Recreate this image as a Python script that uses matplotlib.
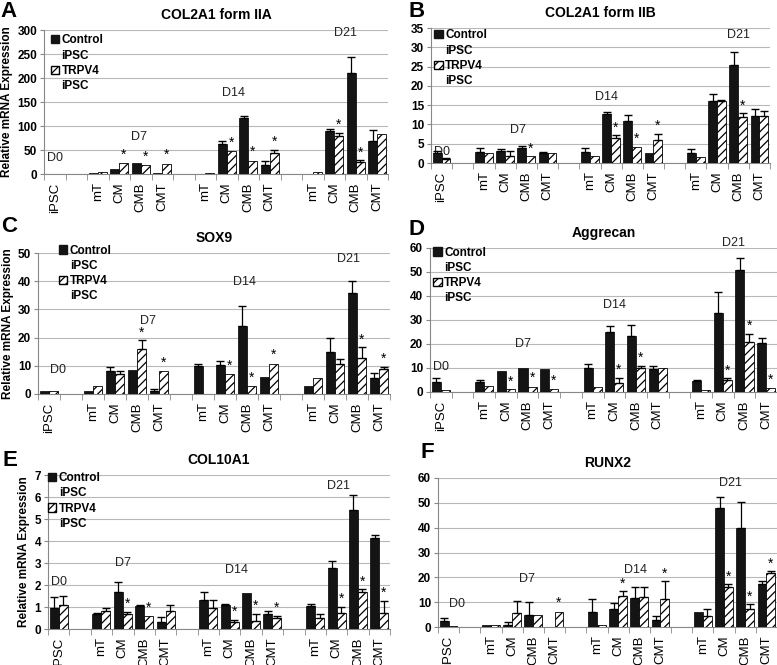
import numpy as np
import matplotlib
matplotlib.use('Agg')
import matplotlib.pyplot as plt
from matplotlib.patches import Patch

plt.rcParams['font.family'] = ['Liberation Sans', 'DejaVu Sans']
plt.rcParams['hatch.linewidth'] = 0.9

# category slots along x ('' = gap between days)
slots = ['iPSC', '', 'mT', 'CM', 'CMB', 'CMT', '', 'mT', 'CM', 'CMB', 'CMT',
         '', 'mT', 'CM', 'CMB', 'CMT']
days = ['D0', 'D7', 'D14', 'D21']

# A - COL2A1 form IIA
a_ctrl = [0.5, 3, 10, 22, 3, 1, 63, 116, 18, 1, 89, 210, 68]
a_ctrl_err = [0, 0, 0, 2, 0, 0, 5, 5, 9, 0, 5, 33, 24]
a_trpv = [1, 5, 23, 18, 21, 3, 47, 28, 43, 4, 80, 25, 83]
a_trpv_err = [0, 0, 1, 1, 2, 0, 1, 2, 7, 0, 6, 4, 2]
a_star = [0, 0, 1, 1, 1, 0, 1, 1, 1, 0, 1, 1, 0]

# B - COL2A1 form IIB
b_ctrl = [2.6, 2.8, 3.0, 3.8, 2.5, 2.8, 12.8, 10.8, 2.5, 2.5, 16.0, 25.3, 12.1]
b_ctrl_err = [0.6, 1.0, 0.7, 0.5, 0.4, 1.0, 0.5, 1.6, 0.2, 1.2, 1.8, 3.5, 2.0]
b_trpv = [1.0, 2.5, 1.8, 1.7, 2.6, 1.7, 6.6, 4.1, 6.0, 1.6, 16.1, 12.0, 12.3]
b_trpv_err = [0.3, 0.1, 1.2, 0.1, 0.2, 0.1, 0.6, 0.2, 1.6, 0.1, 0.3, 0.9, 1.1]
b_star = [0, 0, 0, 1, 0, 0, 1, 1, 1, 0, 0, 1, 0]

# C - SOX9
c_ctrl = [1.2, 1.0, 8.0, 8.6, 1.2, 9.8, 10.2, 24.2, 6.0, 2.8, 14.8, 35.8, 5.6]
c_ctrl_err = [0.3, 0.1, 1.4, 0.1, 0.7, 1.0, 1.6, 7.0, 0.1, 0.1, 5.0, 4.3, 1.8]
c_trpv = [0.9, 2.8, 7.0, 15.8, 8.2, 0.1, 7.0, 2.7, 10.8, 5.7, 10.6, 12.8, 9.0]
c_trpv_err = [0.2, 0.2, 1.2, 3.2, 0.3, 0, 0.4, 0.3, 0.2, 0.2, 1.8, 3.7, 0.6]
c_star = [0, 0, 0, 1, 1, 0, 1, 1, 1, 0, 0, 1, 1]

# D - Aggrecan
d_ctrl = [4.0, 4.0, 8.8, 10.2, 9.4, 10.0, 25.0, 23.2, 9.6, 4.5, 33.0, 51.0, 20.6]
d_ctrl_err = [2.0, 0.8, 0.1, 0.1, 0.1, 1.8, 2.6, 4.6, 1.2, 0.6, 8.5, 5.0, 1.8]
d_trpv = [1.0, 2.3, 1.1, 2.2, 1.3, 2.1, 3.6, 10.0, 10.0, 0.9, 5.0, 21.0, 1.5]
d_trpv_err = [0.1, 0.4, 0.1, 0.3, 0.1, 0.2, 2.3, 1.0, 0.3, 0.1, 0.8, 3.3, 0.2]
d_star = [0, 0, 1, 1, 1, 0, 1, 1, 0, 0, 1, 1, 1]

# E - COL10A1
e_ctrl = [0.97, 0.67, 1.67, 1.03, 0.32, 1.33, 1.07, 1.65, 0.70, 1.05, 2.78, 5.43, 4.13]
e_ctrl_err = [0.5, 0.08, 0.47, 0.08, 0.22, 0.35, 0.07, 0.03, 0.1, 0.1, 0.3, 0.65, 0.15]
e_trpv = [1.1, 0.82, 0.70, 0.60, 0.80, 0.97, 0.33, 0.35, 0.50, 0.48, 0.75, 1.70, 0.73]
e_trpv_err = [0.4, 0.15, 0.08, 0.02, 0.3, 0.35, 0.1, 0.35, 0.1, 0.2, 0.25, 0.1, 0.55]
e_star = [0, 0, 1, 1, 0, 0, 1, 1, 1, 0, 1, 1, 1]

# F - RUNX2
f_ctrl = [2.5, 0.7, 0.8, 5.0, 0.0, 6.1, 7.4, 11.5, 2.9, 6.1, 48.0, 39.7, 17.2]
f_ctrl_err = [1.2, 0.1, 1.2, 5.2, 0, 5.0, 2.2, 4.5, 1.5, 0.1, 4.2, 10.8, 1.3]
f_trpv = [0.6, 0.9, 5.5, 5.0, 6.0, 0.9, 12.6, 12.2, 11.2, 4.3, 16.0, 7.2, 21.7]
f_trpv_err = [0.1, 0.3, 5.0, 0.4, 0.5, 0.1, 1.7, 4.0, 7.3, 2.8, 1.2, 2.0, 0.7]
f_star = [0, 0, 0, 0, 1, 0, 1, 0, 1, 0, 1, 1, 1]

# layout per panel: letter, letter spot (px), title, axes rect (px), ymax, ystep,
# day label spots, legend anchor
W, H = 777, 665
panels = [
    ('A', (0, 1), 'COL2A1 form IIA', (44, 30, 388, 174), 300, 50,
     [(0, 33), (3.9, 78), (8.3, 168), (13.5, 293)], (0.02, 0.97),
     a_ctrl, a_ctrl_err, a_trpv, a_trpv_err, a_star),
    ('B', (409, 1), 'COL2A1 form IIB', (431, 28, 770, 163), 35, 5,
     [(0, 2.9), (3.6, 8.6), (7.8, 17.2), (14.0, 33.3)], (0.01, 0.99),
     b_ctrl, b_ctrl_err, b_trpv, b_trpv_err, b_star),
    ('C', (1, 216), 'SOX9', (38, 253, 390, 394), 50, 10,
     [(0.4, 8.5), (4.5, 25.8), (8.9, 39.7), (13.6, 48)], (0.06, 1.06),
     c_ctrl, c_ctrl_err, c_trpv, c_trpv_err, c_star),
    ('D', (409, 219), 'Aggrecan', (430, 248, 777, 392), 60, 10,
     [(0, 10.5), (3.8, 20.2), (8.0, 36.3), (13.5, 62)], (0.01, 1.01),
     d_ctrl, d_ctrl_err, d_trpv, d_trpv_err, d_star),
    ('E', (2, 450), 'COL10A1', (48, 475, 390, 629), 7, 1,
     [(0, 2.15), (3.0, 3.0), (8.3, 2.7), (13.1, 6.5)], (0.0, 1.02),
     e_ctrl, e_ctrl_err, e_trpv, e_trpv_err, e_star),
    ('F', (420, 442), 'RUNX2', (438, 478, 777, 627), 60, 10,
     [(0.4, 9.4), (3.7, 19.5), (8.8, 22.8), (13.3, 58)], None,
     f_ctrl, f_ctrl_err, f_trpv, f_trpv_err, f_star),
]

pos = np.array([i for i, s in enumerate(slots) if s])
labels = [s for s in slots if s]
bw = 0.42

fig = plt.figure(figsize=(W / 100, H / 100), dpi=100)

for (letter, (lx, ly), title, (l, t, r, b), ymax, ystep, daypos, leg,
     ctrl, ctrl_err, trpv, trpv_err, star) in panels:
    ax = fig.add_axes([l / W, 1 - b / H, (r - l) / W, (b - t) / H])
    ctrl = np.array(ctrl, float)
    trpv = np.array(trpv, float)
    ctrl_err = np.array(ctrl_err, float)
    trpv_err = np.array(trpv_err, float)

    ax.bar(pos - bw / 2, ctrl, bw, color='#141414', edgecolor='#141414',
           linewidth=0.6, zorder=3)
    ax.bar(pos + bw / 2, trpv, bw, color='white', edgecolor='black',
           hatch='////', linewidth=0.6, zorder=3)
    m = ctrl_err > 0.05 * ystep
    ax.errorbar(pos[m] - bw / 2, ctrl[m], yerr=[np.zeros(m.sum()), ctrl_err[m]],
                fmt='none', ecolor='black', elinewidth=0.9, capsize=3, zorder=4)
    m = trpv_err > 0.05 * ystep
    ax.errorbar(pos[m] + bw / 2, trpv[m], yerr=[np.zeros(m.sum()), trpv_err[m]],
                fmt='none', ecolor='black', elinewidth=0.9, capsize=3, zorder=4)

    for p, v, e, s in zip(pos, trpv, trpv_err, star):
        if s:
            ax.text(p + bw / 2, v + e + 0.005 * ymax, '*', ha='center',
                    va='bottom', fontsize=10, zorder=5)

    for d, (dx, dy) in zip(days, daypos):
        ax.text(dx, dy, d, ha='center', va='center', fontsize=9,
                color='#222222', clip_on=False)

    ax.set_xlim(-0.5, len(slots) - 0.5)
    ax.set_ylim(0, ymax)
    ax.set_yticks(np.arange(0, ymax + ystep / 2, ystep))
    ax.yaxis.grid(True, color='#b8b8b8', linewidth=0.8, zorder=0)
    ax.set_axisbelow(True)
    for sp in ['top', 'right']:
        ax.spines[sp].set_visible(False)
    ax.spines['left'].set_color('#888888')
    ax.spines['bottom'].set_color('#888888')
    ax.set_xticks(pos)
    ax.set_xticklabels(labels, rotation=90, fontsize=9.5)
    ax.set_xticks(np.arange(-0.5, len(slots), 1), minor=True)
    ax.tick_params(axis='x', which='major', length=0, pad=6)
    ax.tick_params(axis='x', which='minor', length=4, color='#888888')
    ax.tick_params(axis='y', length=3, color='#888888', labelsize=8.5, pad=2)
    for tl in ax.get_yticklabels():
        tl.set_fontweight('bold')

    ax.set_title(title, fontsize=10, fontweight='bold', pad=8)
    fig.text(lx / W, 1 - ly / H, letter, fontsize=16,
             fontweight='bold', va='top', ha='left')

    if letter in 'ACE':
        ax.set_ylabel('Relative mRNA Expression', fontsize=8.5,
                      fontweight='bold', labelpad=3)

    if leg is not None:
        blank = Patch(facecolor='none', edgecolor='none')
        handles = [Patch(facecolor='#141414', edgecolor='#141414'), blank,
                   Patch(facecolor='white', edgecolor='black', hatch='////'), blank]
        ax.legend(handles, ['Control', 'iPSC', 'TRPV4', 'iPSC'], loc='upper left',
                  bbox_to_anchor=leg, frameon=False, handlelength=0.7,
                  handleheight=0.7, handletextpad=0.2, labelspacing=0.28,
                  borderpad=0, borderaxespad=0,
                  prop={'weight': 'bold', 'size': 8.5})

fig.savefig('out.png', dpi=100)
